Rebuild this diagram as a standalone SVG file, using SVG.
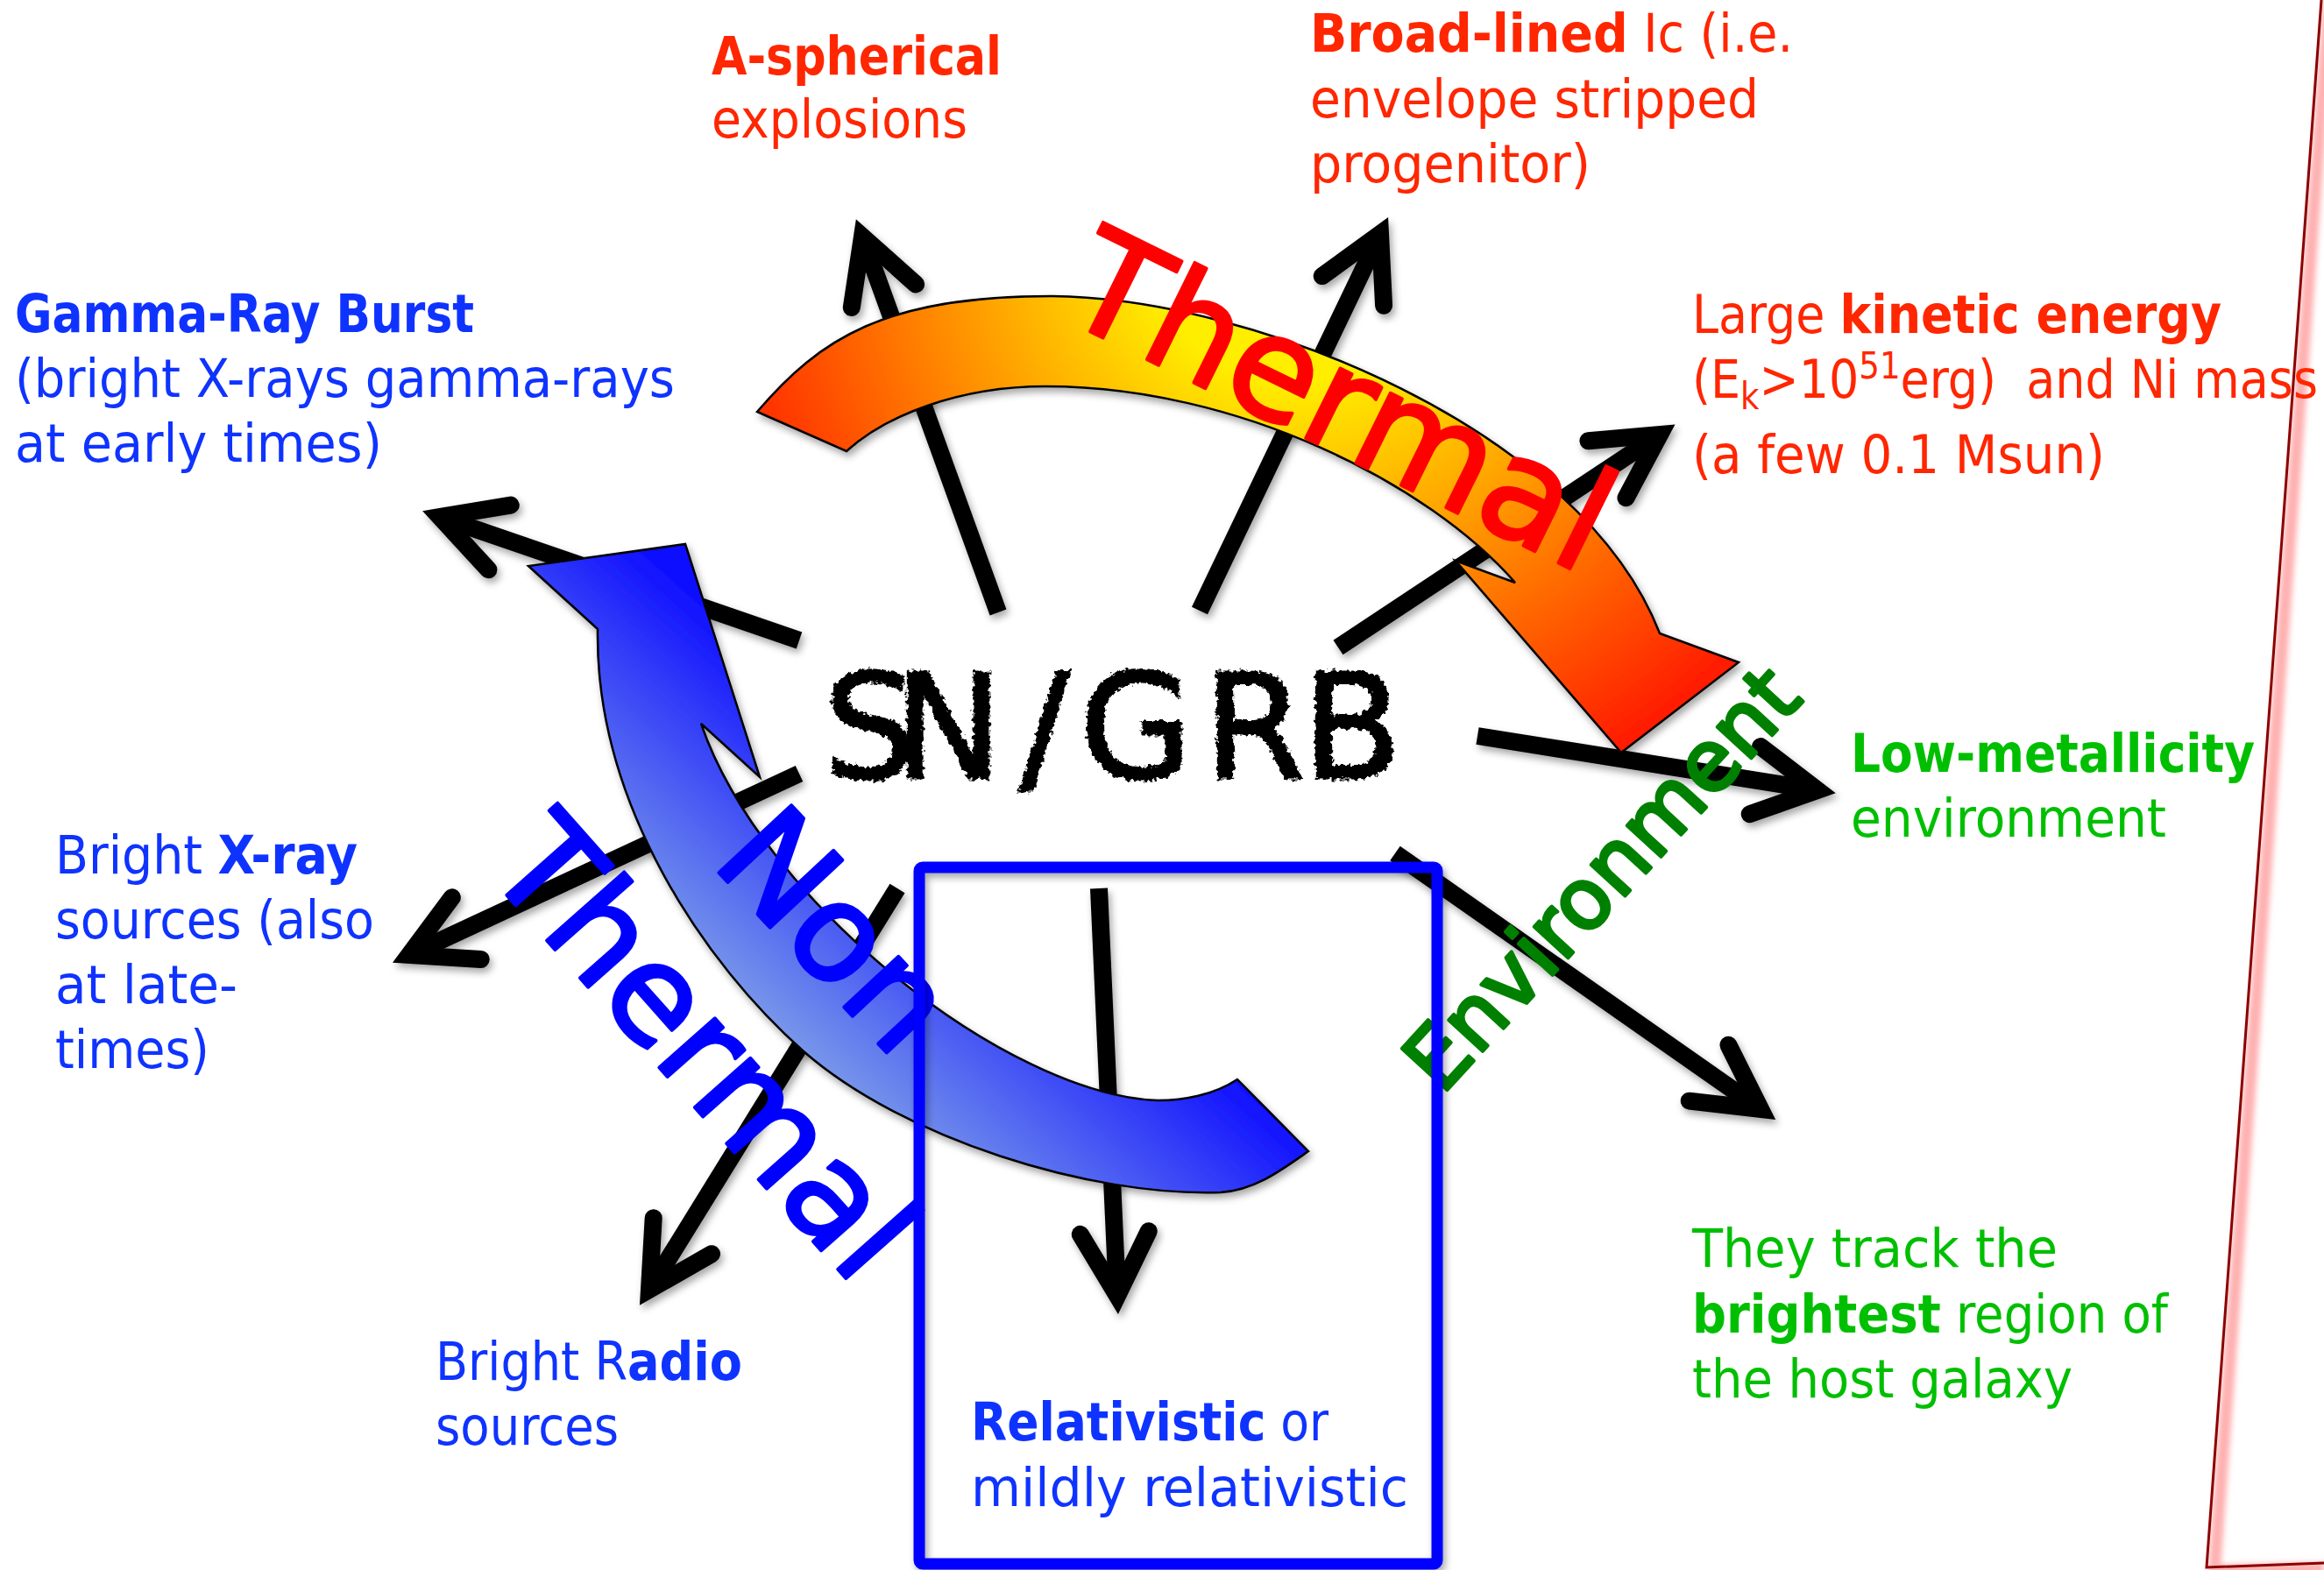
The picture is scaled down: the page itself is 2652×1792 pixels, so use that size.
<svg xmlns="http://www.w3.org/2000/svg" width="2652" height="1792" viewBox="0 0 2652 1792">
<style>
.lbl{font-family:"DejaVu Sans Condensed","DejaVu Sans",sans-serif;font-stretch:condensed;font-size:61px}
.b{font-weight:bold}
.red{fill:#ff2600}
.blue{fill:#0f33ff}
.green{fill:#00bf00}
.big{font-family:"DejaVu Sans",sans-serif;stroke-width:4;stroke-linejoin:round}
.arrow{fill:none;stroke:#000;stroke-width:20;stroke-linecap:butt;marker-end:url(#chev)}
.band{stroke:#000;stroke-width:2.5;stroke-linejoin:miter}
</style>
<defs>
<marker id="chev" markerUnits="userSpaceOnUse" orient="auto" overflow="visible" refX="0" refY="0" markerWidth="1" markerHeight="1">
<path d="M -72 -39 L 0 0 L -72 39" fill="none" stroke="#000" stroke-width="20" stroke-linecap="round" stroke-linejoin="miter" stroke-miterlimit="10"/>
</marker>
<filter id="shadow" x="-10%" y="-10%" width="130%" height="130%">
<feDropShadow dx="3" dy="5" stdDeviation="4" flood-color="#000" flood-opacity="0.35"/>
</filter>
<filter id="chalk" x="-10%" y="-30%" width="120%" height="160%">
<feTurbulence type="fractalNoise" baseFrequency="0.2" numOctaves="2" seed="3" result="n"/>
<feDisplacementMap in="SourceGraphic" in2="n" scale="9" xChannelSelector="R" yChannelSelector="G"/>
</filter>
<filter id="glow" x="-20%" y="-5%" width="140%" height="110%">
<feGaussianBlur stdDeviation="3"/>
</filter>
<radialGradient id="warm" gradientUnits="userSpaceOnUse" cx="1480" cy="260" r="700">
<stop offset="0.25" stop-color="#ffee00"/>
<stop offset="0.6" stop-color="#ff8c00"/>
<stop offset="1" stop-color="#ff1a00"/>
</radialGradient>
<linearGradient id="cool" gradientUnits="userSpaceOnUse" x1="900" y1="1280" x2="1150" y2="1000">
<stop offset="0" stop-color="#8fb5e5"/>
<stop offset="1" stop-color="#1010ff"/>
</linearGradient>
</defs>
<rect width="2652" height="1792" fill="#fff"/>

<g id="page-edge">
<path d="M2658 0 L2527 1793 L2652 1790" fill="none" stroke="#ffb0b0" stroke-width="14" filter="url(#glow)"/>
<path d="M2649 0 L2518 1789 L2652 1784" fill="none" stroke="#8b0000" stroke-width="3"/>
</g>

<g id="connectors" filter="url(#shadow)">
<line class="arrow" x1="1139" y1="699" x2="984" y2="270"/>
<line class="arrow" x1="1369" y1="697" x2="1575" y2="267"/>
<line class="arrow" x1="1527" y1="739" x2="1894" y2="496"/>
<line class="arrow" x1="1686" y1="840" x2="2074" y2="902"/>
<line class="arrow" x1="1592" y1="974" x2="2009" y2="1266"/>
<line class="arrow" x1="1254" y1="1014" x2="1275" y2="1479"/>
<line class="arrow" x1="1024" y1="1014" x2="741" y2="1472"/>
<line class="arrow" x1="912" y1="883" x2="467" y2="1090"/>
<line class="arrow" x1="912" y1="731" x2="502" y2="590"/>
</g>

<g id="thermal-arrow" filter="url(#shadow)">
<path class="band" fill="url(#warm)" d="M864 470 C936 386 1010 338 1200 338 C1430 340 1804 490 1894 723 L1984 756 L1850 859 L1661 640 L1729 665 C1630 552 1413 441 1193 441 C1093 441 1010 475 966 515 Z"/>
</g>
<g id="nonthermal-arrow" filter="url(#shadow)">
<path class="band" fill="url(#cool)" d="M682 718 L603 646 L782 621 L867 887 L800 826 C870 1030 1150 1250 1321 1256 C1350 1256 1385 1250 1412 1232 L1493 1314 C1463 1335 1433 1358 1393 1361 C1243 1366 1030 1299 917 1200 C805 1101 679 918 682 718 Z"/>
</g>

<g id="thermal-label">
<text class="big" x="1207" y="360" font-size="162" fill="#ff0000" stroke="#ff0000" transform="rotate(26.3 1207 360)">Thermal</text>
</g>
<g id="nonthermal-label" class="big" font-size="155" fill="#0000ff" stroke="#0000ff">
<text x="810" y="985" transform="rotate(47 810 985)">Non</text>
<text x="552" y="992" transform="rotate(48.5 552 992)">Thermal</text>
</g>
<g id="environment-label">
<text class="big" x="1645" y="1251" font-size="96" fill="#008000" stroke="#008000" stroke-width="3" transform="rotate(-47.5 1645 1251)">Environment</text>
</g>

<g id="sngrb">
<text font-family="DejaVu Sans, sans-serif" x="940 1020 1164 1232 1374 1486" y="888" font-size="166" fill="#000" stroke="#000" stroke-width="3" filter="url(#chalk)">SN/GRB</text>
</g>

<g id="relativistic" filter="url(#shadow)">
<rect x="1049" y="990" width="591" height="795" rx="4" fill="none" stroke="#0000ff" stroke-width="13"/>
</g>
<g id="relativistic-text" class="lbl blue">
<text x="1108" y="1644" textLength="408" lengthAdjust="spacingAndGlyphs"><tspan class="b">Relativistic</tspan> or</text>
<text x="1108" y="1719" textLength="499" lengthAdjust="spacingAndGlyphs">mildly relativistic</text>
</g>

<g id="aspherical" class="lbl red">
<text x="812" y="85" textLength="331" lengthAdjust="spacingAndGlyphs" class="b">A-spherical</text>
<text x="812" y="157" textLength="292" lengthAdjust="spacingAndGlyphs">explosions</text>
</g>

<g id="broadlined" class="lbl red">
<text x="1495" y="59" textLength="551" lengthAdjust="spacingAndGlyphs"><tspan class="b">Broad-lined</tspan> Ic (i.e.</text>
<text x="1495" y="134" textLength="512" lengthAdjust="spacingAndGlyphs">envelope stripped</text>
<text x="1495" y="208" textLength="320" lengthAdjust="spacingAndGlyphs">progenitor)</text>
</g>

<g id="kinetic" class="lbl red">
<text x="1931" y="380" textLength="604" lengthAdjust="spacingAndGlyphs">Large <tspan class="b">kinetic energy</tspan></text>
<text x="1931" y="454" textLength="714" lengthAdjust="spacingAndGlyphs">(E<tspan dy="13" font-size="42">k</tspan><tspan dy="-13">&gt;10</tspan><tspan dy="-22" font-size="42">51</tspan><tspan dy="22">erg)&#160; and Ni mass</tspan></text>
<text x="1931" y="540" textLength="471" lengthAdjust="spacingAndGlyphs">(a few 0.1 Msun)</text>
</g>

<g id="grb" class="lbl blue">
<text x="17" y="379" textLength="524" lengthAdjust="spacingAndGlyphs" class="b">Gamma-Ray Burst</text>
<text x="17" y="453" textLength="753" lengthAdjust="spacingAndGlyphs">(bright X-rays gamma-rays</text>
<text x="17" y="527" textLength="419" lengthAdjust="spacingAndGlyphs">at early times)</text>
</g>

<g id="xray" class="lbl blue">
<text x="63" y="997" textLength="345" lengthAdjust="spacingAndGlyphs">Bright <tspan class="b">X-ray</tspan></text>
<text x="63" y="1071" textLength="364" lengthAdjust="spacingAndGlyphs">sources (also</text>
<text x="63" y="1145" textLength="208" lengthAdjust="spacingAndGlyphs">at late-</text>
<text x="63" y="1219" textLength="176" lengthAdjust="spacingAndGlyphs">times)</text>
</g>

<g id="radio" class="lbl blue">
<text x="497" y="1575" textLength="350" lengthAdjust="spacingAndGlyphs">Bright R<tspan class="b">adio</tspan></text>
<text x="497" y="1649" textLength="209" lengthAdjust="spacingAndGlyphs">sources</text>
</g>

<g id="metallicity" class="lbl green">
<text x="2112" y="881" textLength="461" lengthAdjust="spacingAndGlyphs" class="b">Low-metallicity</text>
<text x="2112" y="955" textLength="360" lengthAdjust="spacingAndGlyphs">environment</text>
</g>

<g id="host" class="lbl green">
<text x="1931" y="1446" textLength="417" lengthAdjust="spacingAndGlyphs">They track the</text>
<text x="1931" y="1521" textLength="543" lengthAdjust="spacingAndGlyphs"><tspan class="b">brightest</tspan> region of</text>
<text x="1931" y="1595" textLength="434" lengthAdjust="spacingAndGlyphs">the host galaxy</text>
</g>
</svg>
